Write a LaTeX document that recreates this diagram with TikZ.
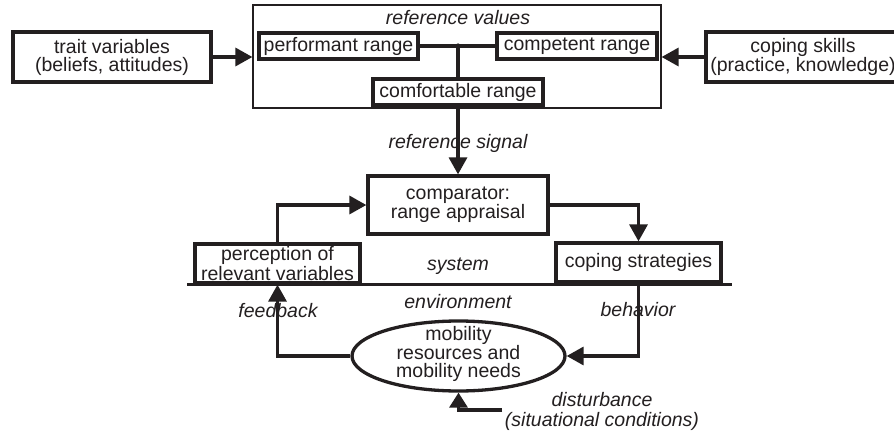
\documentclass[tikz,border=0pt]{standalone}
\usepackage{fontspec}
\setmainfont{Liberation Sans}
\usetikzlibrary{arrows.meta,shapes.geometric}
\definecolor{ink}{HTML}{231F20}
\begin{document}
\begin{tikzpicture}[x=1pt,y=-1pt,
  every node/.style={text=ink,font=\fontsize{19.5}{18}\selectfont},
  box/.style={draw=ink,line width=3.3pt,inner sep=0pt,align=center,fill=white},
  lbl/.style={font=\fontsize{19.5}{20}\selectfont\itshape,inner sep=0pt,align=center},
  conn/.style={draw=ink,line width=3.3pt},
  arr/.style={conn,-{Triangle[length=17pt,width=18pt]}},
]
\clip (0,0) rectangle (894,433);
\fill[white] (0,0) rectangle (894,433);
% reference values frame
\node[draw=ink,line width=1.2pt,minimum width=408pt,minimum height=103pt,inner sep=0pt] (ref) at (457,56.5) {};
\node[lbl] (refv) at (458,18) {reference values};
\coordinate (junc) at (458,46);
% inner range boxes
\node[box,minimum width=159pt,minimum height=26pt] (perf) at (338.5,46) {performant range};
\node[box,minimum width=160pt,minimum height=26pt] (compr) at (577,46) {competent range};
\node[box,minimum width=170pt,minimum height=26pt] (comf) at (458,92) {comfortable range};
% side boxes
\node[box,minimum width=198pt,minimum height=50pt] (trait) at (112,57) {trait variables\\(beliefs, attitudes)};
\node[box,minimum width=194pt,minimum height=50pt] (skills) at (803,57) {coping skills\\(practice, knowledge)};
% system boxes
\node[box,minimum width=180pt,minimum height=58pt] (cmp) at (458,205) {comparator:\\range appraisal};
\node[box,minimum width=165pt,minimum height=39pt] (perc) at (277.5,263.5) {perception of\\relevant variables};
\node[box,minimum width=165pt,minimum height=39pt] (strat) at (638.5,262.5) {coping strategies};
\node[draw=ink,line width=3.3pt,ellipse,minimum width=213pt,minimum height=70pt,inner sep=0pt] (env) at (458.5,356) {};
\node[align=center,inner sep=0pt] (envt) at (458.5,354) {mobility\\resources and\\mobility needs};
% system/environment line
\coordinate (sysL) at (187,284.5);
\coordinate (sysR) at (732,284.5);
\draw[conn] (sysL) -- (sysR);
% labels
\node[lbl] (sys) at (458,266) {system};
\node[lbl] (envl) at (458,302) {environment};
% connectors
\draw[conn] (perf.east) -- (compr.west);
\fill[ink] (junc) circle (2.6pt);
\draw[conn] (junc) -- (comf.north);
\draw[arr] (trait.east) -- (ref.west |- trait.east);
\draw[arr] (skills.west) -- (ref.east |- skills.west);
\draw[arr] (comf.south) -- (cmp.north);
\node[lbl] (rsig) at (458,143) {reference signal};
\draw[arr] (perc.north) |- (cmp.west);
\draw[arr] (cmp.east) -| (strat.north);
\draw[arr] (strat.south) |- (env.east);
\draw[arr] (env.west) -| (perc.south);
\node[lbl] (fb) at (278,311) {feedback};
\node[lbl] (beh) at (638,310) {behavior};
\coordinate (dist) at (502,410);
\draw[conn,-{Triangle[length=15pt,width=18pt]}] (dist) -| (env.south);
\node[lbl] (dst) at (602,411) {disturbance\\(situational conditions)};
\end{tikzpicture}
\end{document}
